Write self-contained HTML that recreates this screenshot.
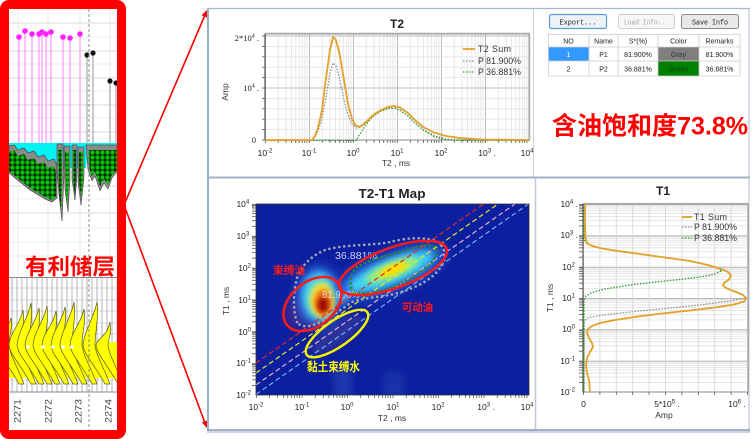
<!DOCTYPE html>
<html><head><meta charset="utf-8">
<style>
html,body{margin:0;padding:0;background:#fff;}
svg{display:block;}
text{font-family:"Liberation Sans","Noto Sans CJK SC",sans-serif;}
.s{font-family:"Liberation Serif","DejaVu Serif",serif;font-size:8.5px;fill:#222;}
.a{font-size:8.5px;fill:#333;}
.m{font-family:"Liberation Mono","Noto Sans CJK SC",monospace;font-size:7px;fill:#222;}
.lg{font-size:8.8px;fill:#333;}
</style></head><body>
<svg width="753" height="439" viewBox="0 0 753 439" xmlns="http://www.w3.org/2000/svg">
<defs>
 <filter id="bl2" x="-50%" y="-50%" width="200%" height="200%"><feGaussianBlur stdDeviation="2"/></filter>
 <filter id="bl3" x="-50%" y="-50%" width="200%" height="200%"><feGaussianBlur stdDeviation="3"/></filter>
 <filter id="bl4" x="-50%" y="-50%" width="200%" height="200%"><feGaussianBlur stdDeviation="4"/></filter>
 <filter id="bl6" x="-50%" y="-50%" width="200%" height="200%"><feGaussianBlur stdDeviation="6"/></filter>
 <clipPath id="mapclip"><rect x="256" y="204" width="273" height="191"/></clipPath>
 <clipPath id="leftclip"><rect x="9" y="9" width="108" height="421"/></clipPath>
 <pattern id="gp" x="0" y="0" width="5" height="5" patternUnits="userSpaceOnUse">
  <rect width="5" height="5" fill="#0b2a0b"/><circle cx="2.5" cy="2.5" r="2.1" fill="#00c400"/>
 </pattern>
 <pattern id="t2x" x="265" y="0" width="44" height="439" patternUnits="userSpaceOnUse">
  <path d="M13.25,0V439M20.99,0V439M26.49,0V439M30.75,0V439M34.24,0V439M37.18,0V439M39.74,0V439M41.99,0V439" stroke="#e3e3e3" stroke-width="0.8"/>
  <path d="M0.5,0V439" stroke="#bcbcbc" stroke-width="1"/>
 </pattern>
 <pattern id="t2tick" x="265" y="0" width="44" height="439" patternUnits="userSpaceOnUse">
  <path d="M13.25,0V439M20.99,0V439M26.49,0V439M30.75,0V439M34.24,0V439M37.18,0V439M39.74,0V439M41.99,0V439M0.5,0V439" stroke="#444" stroke-width="0.7"/>
 </pattern>
 <pattern id="t1y" x="0" y="16.04" width="200" height="31.33" patternUnits="userSpaceOnUse">
  <path d="M0,1.44H200M0,3.04H200M0,4.85H200M0,6.95H200M0,9.43H200M0,12.47H200M0,16.38H200M0,21.9H200" stroke="#e0e0e0" stroke-width="0.8"/>
  <path d="M0,0.5H200" stroke="#b8b8b8" stroke-width="1"/>
 </pattern>
 <pattern id="t1ytick" x="0" y="16.04" width="200" height="31.33" patternUnits="userSpaceOnUse">
  <path d="M0,1.44H200M0,3.04H200M0,4.85H200M0,6.95H200M0,9.43H200M0,12.47H200M0,16.38H200M0,21.9H200M0,0.5H200" stroke="#444" stroke-width="0.7"/>
 </pattern>
 <pattern id="t1x" x="583" y="0" width="16.4" height="439" patternUnits="userSpaceOnUse">
  <path d="M0.5,0V439" stroke="#d4d4d4" stroke-width="0.8"/>
 </pattern>
 <pattern id="mxtick" x="256" y="0" width="45.5" height="439" patternUnits="userSpaceOnUse">
  <path d="M13.7,0V439M21.71,0V439M27.4,0V439M31.8,0V439M35.41,0V439M38.45,0V439M41.09,0V439M43.42,0V439M0.5,0V439" stroke="#444" stroke-width="0.7"/>
 </pattern>
 <pattern id="mytick" x="0" y="13.04" width="200" height="31.83" patternUnits="userSpaceOnUse">
  <path d="M0,1.46H200M0,3.09H200M0,4.93H200M0,7.06H200M0,9.58H200M0,12.67H200M0,16.64H200M0,22.25H200M0,0.5H200" stroke="#444" stroke-width="0.7"/>
 </pattern>
</defs>

<!-- ============ LEFT LOG PANEL ============ -->
<rect x="0" y="0" width="126" height="439" rx="9" fill="#ff0000"/>
<rect x="9" y="9" width="108" height="421" fill="#ffffff"/>
<g clip-path="url(#leftclip)">
 <g stroke="#e6e6e6" stroke-width="0.8">
  <path d="M9,37H117M9,64H117M9,91H117M9,118H117M9,172H117M9,199H117M9,228H117M9,242H117M9,256H117"/>
  <path d="M18,9V277M48,9V277M80,9V277M110,9V277"/>
 </g>
 <g stroke="#cdcdcd" stroke-width="0.8">
  <path d="M9,23H117M9,51H117M9,78H117M9,105H117M9,132H117M9,159H117M9,186H117M9,213H117"/>
 </g>
 <g stroke="#ff88ff" stroke-width="1.1">
  <path d="M19,37V143M25,31V143M32,34V143M39,34V143M42,32V143M46,34V143M51,32V143M63,37V143M70,38V143M80,34V143"/>
 </g>
 <g fill="#ff22ff">
  <circle cx="19" cy="37" r="2.8"/><circle cx="25" cy="31" r="2.8"/><circle cx="32" cy="34" r="2.8"/>
  <circle cx="39" cy="34" r="2.8"/><circle cx="42" cy="32" r="2.8"/><circle cx="46" cy="34" r="2.8"/>
  <circle cx="51" cy="32" r="2.8"/><circle cx="63" cy="37" r="2.8"/><circle cx="70" cy="38" r="2.8"/>
  <circle cx="80" cy="34" r="2.8"/>
 </g>
 <g stroke="#a8a8a8" stroke-width="1.2"><path d="M87,55V143M93,53V143M110,81V143M116,83V143"/></g>
 <g fill="#111"><circle cx="87" cy="55" r="2.6"/><circle cx="93" cy="53" r="2.6"/><circle cx="110" cy="81" r="2.6"/><circle cx="116" cy="83" r="2.6"/></g>
 <path d="M9,143H117V148L88,148L86,168L58,168L50,163L40,159L30,155L20,152L9,148Z" fill="#00f4f4"/>
 <path d="M9,146L14,145L18,150L24,148L28,153L34,151L38,157L44,155L48,161L54,159L57,165L57,198L52,202L45,199L40,196L30,190L20,182L9,173Z" fill="#8a8a8a" stroke="#333" stroke-width="0.6"/>
 <path d="M9,152L14,150L18,156L24,154L28,160L34,158L38,164L44,162L48,168L54,166L56,172L56,196L52,200L45,197L40,194L30,188L20,180L9,171Z" fill="url(#gp)"/>
 <path d="M57,144L63,144L64,175L62,221L59,195L57,170Z" fill="#8a8a8a" stroke="#333" stroke-width="0.5"/>
 <path d="M58,150L62,150L62,180L61,212L59,190Z" fill="url(#gp)"/>
 <path d="M64,146L70,146L70,180L68,212L65,190Z" fill="#8a8a8a" stroke="#333" stroke-width="0.5"/>
 <path d="M65,152L69,152L69,182L67,205L66,188Z" fill="url(#gp)"/>
 <path d="M72,145L77,145L77,175L75,200L72,180Z" fill="#8a8a8a" stroke="#333" stroke-width="0.5"/>
 <path d="M73,150L76,150L76,178L75,195L73,180Z" fill="url(#gp)"/>
 <path d="M78,147L84,147L84,178L81,205L78,182Z" fill="#8a8a8a" stroke="#333" stroke-width="0.5"/>
 <path d="M79,152L83,152L83,180L81,198L79,182Z" fill="url(#gp)"/>
 <path d="M86,145L117,145L117,172L112,178L108,189L104,183L100,191L95,176L92,181L88,170Z" fill="#8a8a8a" stroke="#333" stroke-width="0.5"/>
 <path d="M88,150L117,150L117,170L112,175L108,185L104,179L100,186L95,172L92,177L89,167Z" fill="url(#gp)"/>
 <text x="25" y="274.5" font-size="22" font-weight="bold" fill="#ff0000" textLength="90" lengthAdjust="spacingAndGlyphs">有利储层</text>
 <g stroke="#d0d0d0" stroke-width="0.7">
  <path d="M9,288H117M9,300H117M9,311H117M9,323H117M9,334H117M9,346H117M9,357H117M9,369H117M9,380H117"/>
 </g>
 <g stroke="#959595" stroke-width="0.7">
  <path d="M12,277V392M17,277V392M22,277V392M27,277V392M32,277V392M37,277V392M42,277V392M47,277V392M52,277V392M57,277V392M62,277V392M67,277V392M72,277V392M77,277V392M82,277V392M87,277V392M92,277V392M97,277V392M102,277V392M107,277V392M112,277V392M117,277V392"/>
 </g>
 <path d="M9,277.5H117M9,392H117" stroke="#888" stroke-width="1"/>
 <path d="M9,342L117,342L117,378L9,378Z" fill="#ffff00"/>
 <g fill="#ffff00" stroke="#5a5a20" stroke-width="0.7">
  <path d="M11,318 C8,330 -2,335 -3,345 C-2,355 9,365 19,384 L24,384 C17,366 10,355 9,345 C9,333 13,330 11,318Z"/>
  <path d="M23,310 C20,325 10,332 9,345 C10,355 21,365 31,384 L36,384 C29,366 22,355 21,345 C21,333 25,325 23,310Z"/>
  <path d="M31,303 C28,318 18,332 17,345 C18,355 29,365 39,384 L44,384 C37,366 30,355 29,345 C29,333 33,318 31,303Z"/>
  <path d="M39,308 C36,323 26,332 25,345 C26,355 37,365 47,384 L52,384 C45,366 38,355 37,345 C37,333 41,323 39,308Z"/>
  <path d="M47,306 C44,321 34,332 33,345 C34,355 45,365 55,384 L60,384 C53,366 46,355 45,345 C45,333 49,321 47,306Z"/>
  <path d="M56,311 C53,326 43,332 42,345 C43,355 54,365 64,384 L69,384 C62,366 55,355 54,345 C54,333 58,326 56,311Z"/>
  <path d="M65,307 C62,322 52,332 51,345 C52,355 63,365 73,384 L78,384 C71,366 64,355 63,345 C63,333 67,322 65,307Z"/>
  <path d="M74,302 C71,317 61,332 60,345 C61,355 72,365 82,384 L87,384 C80,366 73,355 72,345 C72,333 76,317 74,302Z"/>
  <path d="M84,309 C81,324 71,332 70,345 C71,355 82,365 92,384 L97,384 C90,366 83,355 82,345 C82,333 86,324 84,309Z"/>
  <path d="M97,302 C94,317 84,332 83,345 C84,355 95,365 105,384 L110,384 C103,366 96,355 95,345 C95,333 99,317 97,302Z"/>
  <path d="M110,322 C107,337 97,338 96,345 C97,355 108,365 118,384 L123,384 C116,366 109,355 108,345 C108,338 112,337 110,322Z"/>
 </g>
 <g fill="#ffffff"><ellipse cx="28" cy="347" rx="2" ry="1.6"/><ellipse cx="43" cy="347" rx="2" ry="1.6"/><ellipse cx="53" cy="347" rx="2" ry="1.6"/><ellipse cx="63" cy="347" rx="2" ry="1.6"/><ellipse cx="72" cy="347" rx="2" ry="1.6"/></g>
 <path d="M89,9V430" stroke="#8c8c8c" stroke-width="1" stroke-dasharray="3 2"/>
 <g font-size="9" fill="#444">
  <text transform="translate(20.5,423) rotate(-90)" textLength="24" lengthAdjust="spacingAndGlyphs">2271</text>
  <text transform="translate(51.5,423) rotate(-90)" textLength="24" lengthAdjust="spacingAndGlyphs">2272</text>
  <text transform="translate(81.5,423) rotate(-90)" textLength="24" lengthAdjust="spacingAndGlyphs">2273</text>
  <text transform="translate(111.5,423) rotate(-90)" textLength="24" lengthAdjust="spacingAndGlyphs">2274</text>
 </g>
</g>

<g stroke="#ff0000" stroke-width="1.6" fill="none"><path d="M124,205L205,15"/><path d="M124,205L205,423"/></g>
<path d="M207,10L207,17.6L201.5,15.2Z" fill="#ff0000"/>
<path d="M207,428L207.4,420.4L201.8,422.4Z" fill="#ff0000"/>

<!-- ============ RIGHT PANEL FRAMES ============ -->
<rect x="209" y="9" width="540" height="421" fill="#ffffff"/>
<path d="M208,8V430" stroke="#9cb0c8" stroke-width="2"/>
<path d="M207,8.5H750" stroke="#a8b8cc" stroke-width="1.2"/>
<path d="M749,8V430" stroke="#b0bccc" stroke-width="1"/>
<path d="M533.5,9V177" stroke="#d0d0d0" stroke-width="1"/>
<path d="M207,177.5H750" stroke="#a0b0c8" stroke-width="2"/>
<path d="M535.5,178V430" stroke="#c0c8d4" stroke-width="1.5"/>
<path d="M207,430H750" stroke="#8898b0" stroke-width="1.5"/>
<path d="M207,432H750" stroke="#c8d4e4" stroke-width="2"/>

<!-- ============ T2 CHART ============ -->
<text x="397" y="28" font-size="12" font-weight="bold" fill="#222" text-anchor="middle">T2</text>
<rect x="265" y="34" width="264" height="106" fill="#fff"/>
<rect x="265" y="34" width="264" height="106" fill="url(#t2x)"/>
<g stroke="#e3e3e3" stroke-width="0.8"><path d="M265,129.6H529M265,119.2H529M265,108.8H529M265,98.4H529M265,77.6H529M265,67.2H529M265,56.8H529M265,46.4H529"/></g>
<g stroke="#bcbcbc" stroke-width="1"><path d="M265,88H529M265,36H529"/></g>
<rect x="265" y="34" width="264" height="106" fill="none" stroke="#8a8a8a" stroke-width="1"/>
<path d="M529.5,34V141M265,33.5H530" stroke="#aaa" stroke-width="1.5"/>
<path d="M265,34V140" stroke="#333" stroke-width="1"/>
<rect x="265" y="140" width="264" height="3" fill="url(#t2tick)"/>
<g stroke="#444" stroke-width="0.7"><path d="M262,140H265M262,129.6H265M262,119.2H265M262,108.8H265M262,98.4H265M262,88H265M262,77.6H265M262,67.2H265M262,56.8H265M262,46.4H265M262,36H265"/></g>
<path d="M265,140.5L312,140.5L315,137L318,131L322,119L326,97L330,73L333,63L336,66L340,80L344,100L348,115L352,124L356,128L360,127.5L366,123L372,117L380,111.5L388,108.5L394,108L400,110L408,116L416,124L424,130L434,135.5L446,139L460,140.5L529,140.5" fill="none" stroke="#8a8a8a" stroke-width="1.2" stroke-dasharray="1.5 1.5"/>
<path d="M265,140.5L356,140.5L360,134L366,124.5L372,117.5L380,111.5L388,108.5L394,108L400,110L408,116L416,124L424,130.5L434,136.5L446,140L529,140.5" fill="none" stroke="#2c9c2c" stroke-width="1.3" stroke-dasharray="1.5 1.5"/>
<path d="M265,140L312,140L315,136L318,128L322,110L326,78L330,50L333,37L336,40L340,56L344,80L348,104L352,119L356,126L360,126.5L366,122L372,116L380,110.5L388,107L394,106L400,107.5L408,113L416,121L424,127.5L434,132.5L446,136L460,138L482,139.5L529,140" fill="none" stroke="#e4a028" stroke-width="1.8" stroke-linejoin="round"/>
<path d="M463,49H475" stroke="#e4a028" stroke-width="1.8"/>
<path d="M463,61H475" stroke="#8a8a8a" stroke-width="1.2" stroke-dasharray="1.5 1.5"/>
<path d="M463,72H475" stroke="#2c9c2c" stroke-width="1.2" stroke-dasharray="1.5 1.5"/>
<text class="lg" x="478" y="52" textLength="33">T2  Sum</text>
<text class="lg" x="478" y="64" textLength="43">P 81.900%</text>
<text class="lg" x="478" y="75" textLength="43">P 36.881%</text>
<text class="s" x="259" y="41" text-anchor="end">2*10<tspan dy="-3.5" font-size="6">4</tspan><tspan dy="3.5"> .</tspan></text>
<text class="s" x="259" y="91" text-anchor="end">10<tspan dy="-3.5" font-size="6">4</tspan><tspan dy="3.5"> .</tspan></text>
<text class="s" x="256" y="143" text-anchor="end">0</text>
<g class="s" text-anchor="middle">
 <text x="265" y="156">10<tspan dy="-3.5" font-size="6">-2</tspan></text>
 <text x="309" y="156">10<tspan dy="-3.5" font-size="6">-1</tspan></text>
 <text x="353" y="156">10<tspan dy="-3.5" font-size="6">0</tspan></text>
 <text x="397" y="156">10<tspan dy="-3.5" font-size="6">1</tspan></text>
 <text x="441" y="156">10<tspan dy="-3.5" font-size="6">2</tspan></text>
 <text x="487" y="156">10<tspan dy="-3.5" font-size="6">3</tspan><tspan dy="3.5"> .</tspan></text>
 <text x="527" y="156">10<tspan dy="-3.5" font-size="6">4</tspan></text>
</g>
<text class="a" x="396" y="166" text-anchor="middle">T2 , ms</text>
<text class="a" transform="translate(228,92) rotate(-90)" text-anchor="middle">Amp</text>

<!-- ============ INFO PANEL ============ -->
<rect x="549.5" y="14.5" width="57" height="14" rx="2" fill="#eef2f6" stroke="#5b9bd8" stroke-width="1.2"/>
<text class="m" x="578" y="24.5" text-anchor="middle" textLength="37" lengthAdjust="spacingAndGlyphs">Export...</text>
<rect x="618.5" y="14.5" width="56" height="14" rx="2" fill="#f6f6f6" stroke="#cfcfcf" stroke-width="1"/>
<text class="m" x="646.5" y="24.5" text-anchor="middle" style="fill:#a8a8a8" textLength="45" lengthAdjust="spacingAndGlyphs">Load Info...</text>
<rect x="681.5" y="14.5" width="57" height="14" rx="2" fill="#e9e9e9" stroke="#8a8a8a" stroke-width="1"/>
<text class="m" x="710" y="24.5" text-anchor="middle" textLength="36" lengthAdjust="spacingAndGlyphs">Save Info</text>
<rect x="548" y="34" width="192" height="42" fill="#fff"/>
<rect x="548" y="47" width="41" height="14" fill="#3399ff"/>
<rect x="658" y="47" width="41" height="14" fill="#7f7f7f"/>
<rect x="658" y="61" width="41" height="15" fill="#008000"/>
<g stroke="#cccccc" stroke-width="0.8" fill="none">
 <path d="M548,34.5H740M548,47H740M548,61H740M548,76H740"/>
 <path d="M548.5,34V76M589,34V76M618,34V76M658,34V76M699,34V76M740,34V76"/>
</g>
<g class="m" text-anchor="middle">
 <text x="568.5" y="43.5">NO</text><text x="603.5" y="43.5">Name</text><text x="638" y="43.5">S*(%)</text><text x="678.5" y="43.5">Color</text><text x="719.5" y="43.5">Remarks</text>
 <text x="568.5" y="57" style="fill:#fff">1</text><text x="603.5" y="57">P1</text><text x="638" y="57">81.900%</text><text x="678.5" y="57" style="fill:#333">Gray</text><text x="719.5" y="57">81.900%</text>
 <text x="568.5" y="71.5">2</text><text x="603.5" y="71.5">P2</text><text x="638" y="71.5">36.881%</text><text x="678.5" y="71.5" style="fill:#0b3a0b">Green</text><text x="719.5" y="71.5">36.881%</text>
</g>
<text x="552" y="134.5" font-size="25" font-weight="bold" fill="#ff0000" textLength="196" lengthAdjust="spacingAndGlyphs">含油饱和度73.8%</text>

<!-- ============ T2-T1 MAP ============ -->
<text x="392" y="198" font-size="12.5" font-weight="bold" fill="#222" text-anchor="middle" textLength="67" lengthAdjust="spacingAndGlyphs">T2-T1 Map</text>
<g clip-path="url(#mapclip)">
 <rect x="256" y="204" width="273" height="191" fill="#0c1f9e"/>
 <rect x="334" y="368" width="18" height="30" fill="#2c4cbc" opacity="0.55" filter="url(#bl4)"/>
 <rect x="384" y="372" width="20" height="26" fill="#2c4cbc" opacity="0.45" filter="url(#bl4)"/>
 <ellipse cx="299" cy="313" rx="16" ry="15" fill="#4a2c8c" opacity="0.65" filter="url(#bl4)"/>
 <ellipse cx="337" cy="334" rx="30" ry="10" transform="rotate(-35 337 334)" fill="#40409c" opacity="0.6" filter="url(#bl3)"/>
 <!-- hotspot 1 -->
 <ellipse cx="319" cy="297" rx="22" ry="30" fill="#2a64e0" filter="url(#bl6)"/>
 <ellipse cx="319" cy="296" rx="17" ry="24" fill="#3cd6f2" filter="url(#bl4)"/>
 <ellipse cx="343" cy="297" rx="6" ry="6" fill="#3cd6f2" filter="url(#bl3)"/>
 <ellipse cx="322" cy="300" rx="13" ry="18" fill="#f2e23c" filter="url(#bl3)"/>
 <ellipse cx="323" cy="302" rx="9" ry="13" fill="#f07a10" filter="url(#bl2)"/>
 <ellipse cx="323" cy="305" rx="5.5" ry="8" fill="#a00800" filter="url(#bl2)"/>
 <!-- hotspot 2 -->
 <g transform="rotate(-22 392 270)">
  <ellipse cx="390" cy="272" rx="58" ry="18" fill="#2a64e0" filter="url(#bl6)"/>
  <ellipse cx="390" cy="271" rx="46" ry="12" fill="#3cd6f2" filter="url(#bl4)"/>
  <ellipse cx="392" cy="270" rx="28" ry="8" fill="#9cec78" filter="url(#bl3)"/>
  <ellipse cx="393" cy="270" rx="15" ry="5" fill="#ffe000" filter="url(#bl2)"/>
 </g>
 <g stroke-width="1.2" stroke-dasharray="5 3" fill="none">
  <path d="M256,363L485,203" stroke="#e82828"/>
  <path d="M256,373L498,204" stroke="#e8e820"/>
  <path d="M256,385L515,204" stroke="#e8b0d0"/>
  <path d="M256,394.4L528,204.3" stroke="#70b0f0"/>
 </g>
 <path d="M297,322 C293,312 293,292 297,278 C300,268 310,256 325,250 C345,244 370,246 390,242 C405,238 425,236 438,242 C446,248 447,260 440,268 C432,280 415,288 398,293 C385,297 365,297 352,302 C340,310 325,322 310,326 C303,327 299,325 297,322Z" fill="none" stroke="#a8a8b4" stroke-width="2.6" stroke-dasharray="0 5" stroke-linecap="round"/>
 <path d="M353,292 C349,284 350,272 357,267 C368,260 385,256 400,252 C415,247 428,243 435,247 C440,254 433,264 420,272 C410,279 400,284 393,287 C383,291 370,294 363,293 C358,293 355,293 353,292Z" fill="none" stroke="#2a8a2a" stroke-width="2.6" stroke-dasharray="0 4.5" stroke-linecap="round"/>
 <text x="335" y="259" font-size="10" fill="#c8d0f4" textLength="42" lengthAdjust="spacingAndGlyphs">36.881%</text>
 <text x="322" y="298" font-size="10" fill="#e8e8f8" opacity="0.8" textLength="38" lengthAdjust="spacingAndGlyphs">81.900%</text>
</g>
<rect x="256" y="204" width="273" height="191" fill="none" stroke="#333" stroke-width="0.8"/>
<rect x="256" y="395" width="273" height="3" fill="url(#mxtick)"/>
<rect x="252" y="204" width="4" height="191" fill="url(#mytick)"/>
<ellipse cx="393" cy="268" rx="57" ry="20" transform="rotate(-20 393 268)" fill="none" stroke="#ff1a1a" stroke-width="2.5"/>
<ellipse cx="312.5" cy="304" rx="33" ry="22" transform="rotate(-40 312.5 304)" fill="none" stroke="#ff1a1a" stroke-width="2.5"/>
<ellipse cx="337" cy="333.5" rx="37" ry="13" transform="rotate(-35 337 333.5)" fill="none" stroke="#f4f400" stroke-width="2.5"/>
<text x="273" y="274" font-size="11" font-weight="bold" fill="#ff1a1a" textLength="32" lengthAdjust="spacingAndGlyphs">束缚油</text>
<text x="402" y="311" font-size="11" font-weight="bold" fill="#ff1a1a" textLength="31" lengthAdjust="spacingAndGlyphs">可动油</text>
<text x="307" y="371" font-size="12" font-weight="bold" fill="#ffff00" textLength="53" lengthAdjust="spacingAndGlyphs">黏土束缚水</text>
<g class="s" text-anchor="end">
 <text x="254" y="207">10<tspan dy="-3.5" font-size="6">4</tspan><tspan dy="3.5"> .</tspan></text>
 <text x="254" y="239">10<tspan dy="-3.5" font-size="6">3</tspan><tspan dy="3.5"> .</tspan></text>
 <text x="251" y="271">10<tspan dy="-3.5" font-size="6">2</tspan></text>
 <text x="251" y="303">10<tspan dy="-3.5" font-size="6">1</tspan></text>
 <text x="251" y="335">10<tspan dy="-3.5" font-size="6">0</tspan></text>
 <text x="251" y="366">10<tspan dy="-3.5" font-size="6">-1</tspan></text>
 <text x="251" y="398">10<tspan dy="-3.5" font-size="6">-2</tspan></text>
</g>
<g class="s" text-anchor="middle">
 <text x="256" y="410">10<tspan dy="-3.5" font-size="6">-2</tspan></text>
 <text x="302" y="410">10<tspan dy="-3.5" font-size="6">-1</tspan></text>
 <text x="347" y="410">10<tspan dy="-3.5" font-size="6">0</tspan></text>
 <text x="393" y="410">10<tspan dy="-3.5" font-size="6">1</tspan></text>
 <text x="438" y="410">10<tspan dy="-3.5" font-size="6">2</tspan></text>
 <text x="486" y="410">10<tspan dy="-3.5" font-size="6">3</tspan><tspan dy="3.5"> .</tspan></text>
 <text x="527" y="410">10<tspan dy="-3.5" font-size="6">4</tspan></text>
</g>
<text class="a" x="392" y="421" text-anchor="middle">T2 , ms</text>
<text class="a" transform="translate(229,301) rotate(-90)" text-anchor="middle">T1 , ms</text>

<!-- ============ T1 CHART ============ -->
<text x="663" y="195" font-size="12" font-weight="bold" fill="#222" text-anchor="middle">T1</text>
<rect x="583" y="204" width="165" height="188" fill="#fff"/>
<rect x="583" y="204" width="165" height="188" fill="url(#t1y)"/>
<rect x="583" y="204" width="165" height="188" fill="url(#t1x)"/>
<rect x="583" y="204" width="165" height="188" fill="none" stroke="#8a8a8a" stroke-width="1"/>
<path d="M748,204V392M583,203.5H748" stroke="#aaa" stroke-width="1.3"/>
<path d="M583,204V392" stroke="#333" stroke-width="1"/>
<rect x="579" y="204" width="4" height="188" fill="url(#t1ytick)"/>
<g stroke="#444" stroke-width="0.7"><path d="M583.5,392V395M599.9,392V395M616.3,392V395M632.7,392V395M649.1,392V395M665.5,392V395M681.9,392V395M698.3,392V395M714.7,392V395M731.1,392V395M747.5,392V395"/></g>
<path d="M584,392L584,322L587,318L600,315.5L625,312.5L660,309L700,305L730,301L745,298L743,295L736,292" fill="none" stroke="#8a8a8a" stroke-width="1.2" stroke-dasharray="1.5 1.5"/>
<path d="M584,204L584,240L587,243.5L592,246L602,248.5L618,251L640,254L665,257.5L690,261L708,265L717,268L722,270.5L715,274L700,277L680,279.5L655,282L630,285L605,289L592,292.5L586,296L584,300L584,392" fill="none" stroke="#2c9c2c" stroke-width="1.3" stroke-dasharray="1.5 1.5"/>
<path d="M585,204L585,225L585.5,238L587,243L592,246L602,248.5L618,251L640,254L665,257.5L690,261L708,265L720,268.5L728,272L731,275.5L729,279.5L724,283L723,285.5L727,288.5L736,292L743,295L746,298L744,301.5L734,304.5L715,307.5L690,310.5L662,313.5L638,316.5L615,320L600,323L592,326L588,329L587,333L589,338L592,343L593,347L590,352L587,358L586,365L587,373L589,380L590,392" fill="none" stroke="#e4a028" stroke-width="1.8" stroke-linejoin="round"/>
<path d="M682,217H692" stroke="#e4a028" stroke-width="1.8"/>
<path d="M682,227H692" stroke="#8a8a8a" stroke-width="1.2" stroke-dasharray="1.5 1.5"/>
<path d="M682,238H692" stroke="#2c9c2c" stroke-width="1.2" stroke-dasharray="1.5 1.5"/>
<text class="lg" x="694" y="220" textLength="33">T1  Sum</text>
<text class="lg" x="694" y="230" textLength="43">P 81.900%</text>
<text class="lg" x="694" y="241" textLength="43">P 36.881%</text>
<g class="s" text-anchor="end">
 <text x="578" y="207">10<tspan dy="-3.5" font-size="6">4</tspan><tspan dy="3.5"> .</tspan></text>
 <text x="578" y="238">10<tspan dy="-3.5" font-size="6">3</tspan><tspan dy="3.5"> .</tspan></text>
 <text x="575" y="270">10<tspan dy="-3.5" font-size="6">2</tspan></text>
 <text x="575" y="301">10<tspan dy="-3.5" font-size="6">1</tspan></text>
 <text x="575" y="332">10<tspan dy="-3.5" font-size="6">0</tspan></text>
 <text x="575" y="364">10<tspan dy="-3.5" font-size="6">-1</tspan></text>
 <text x="575" y="395">10<tspan dy="-3.5" font-size="6">-2</tspan></text>
</g>
<g class="s" text-anchor="middle">
 <text x="583.5" y="407">0</text>
 <text x="667" y="407">5*10<tspan dy="-3.5" font-size="6">5</tspan><tspan dy="3.5"> .</tspan></text>
 <text x="737" y="407">10<tspan dy="-3.5" font-size="6">6</tspan><tspan dy="3.5"> .</tspan></text>
</g>
<text class="a" x="664" y="418" text-anchor="middle">Amp</text>
<text class="a" transform="translate(553,298) rotate(-90)" text-anchor="middle">T1 , ms</text>
</svg>
</body></html>
